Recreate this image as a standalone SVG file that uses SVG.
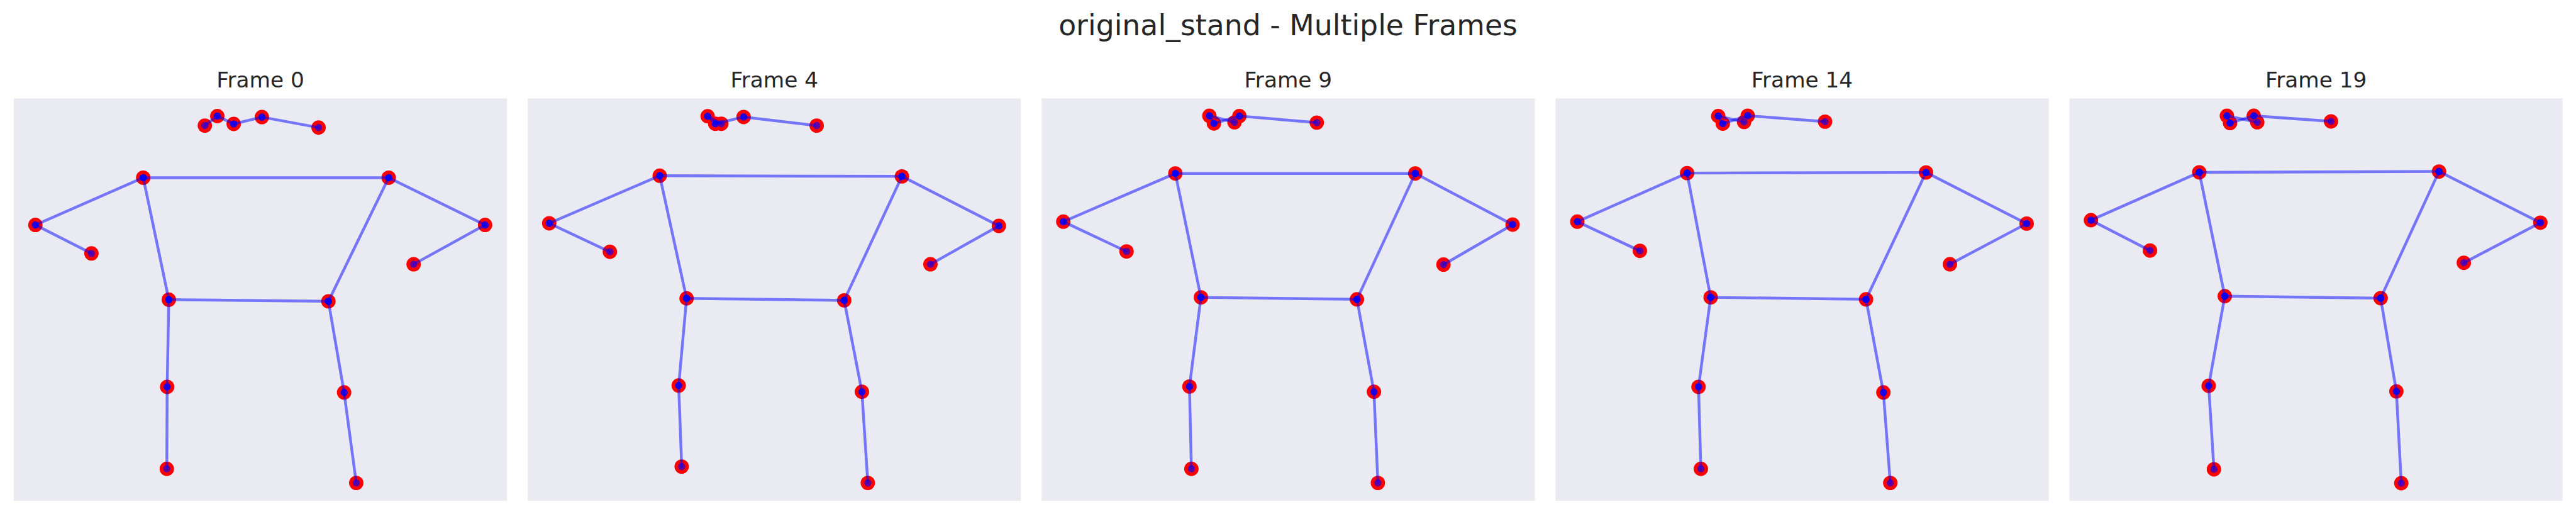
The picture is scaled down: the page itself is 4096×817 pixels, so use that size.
<svg xmlns="http://www.w3.org/2000/svg" width="4096" height="817" viewBox="0 0 4096 817">
<style>
.bg{fill:#EAEAF2}
.ttl{font-family:"DejaVu Sans","Liberation Sans",sans-serif;fill:#262626;text-anchor:middle}
.sup{font-size:66.67px}
.sub{font-size:50px}
.kp circle{fill:#FF0000}
.seg path{fill:none;stroke:#0000FF;stroke-opacity:0.5;stroke-width:6.5;stroke-linecap:square;marker-start:url(#dot);marker-end:url(#dot)}
</style>
<defs>
<marker id="dot" viewBox="-10 -10 20 20" markerWidth="20" markerHeight="20" refX="0" refY="0" markerUnits="userSpaceOnUse" orient="0" overflow="visible">
<circle r="7" fill="#0000FF" fill-opacity="0.5" stroke="#0000FF" stroke-opacity="0.5" stroke-width="3"/>
</marker>
</defs>
<rect width="4096" height="817" fill="#FFFFFF"/>
<g transform="scale(0.6861)">
<g id="suptitle"><text class="ttl sup" x="2985" y="81">original_stand - Multiple Frames</text></g>

<g id="frame-0">
<rect class="bg" x="32" y="228" width="1143" height="932"/>
<text class="ttl sub" x="603.5" y="202">Frame 0</text>
<g class="kp">
<circle r="16.7" cx="474.7" cy="290.9"/><circle r="16.7" cx="503.6" cy="268.9"/><circle r="16.7" cx="541.6" cy="287.1"/><circle r="16.7" cx="606.9" cy="271.2"/><circle r="16.7" cx="738.3" cy="295.5"/>
<circle r="16.7" cx="331.9" cy="411.7"/><circle r="16.7" cx="82" cy="521.1"/><circle r="16.7" cx="211.9" cy="587.1"/>
<circle r="16.7" cx="900.8" cy="411.7"/><circle r="16.7" cx="1124.2" cy="521.1"/><circle r="16.7" cx="958.6" cy="612.2"/>
<circle r="16.7" cx="391.2" cy="694.2"/><circle r="16.7" cx="761.1" cy="698"/>
<circle r="16.7" cx="387.4" cy="896.3"/><circle r="16.7" cx="386.6" cy="1086.2"/>
<circle r="16.7" cx="797.5" cy="909.2"/><circle r="16.7" cx="825.6" cy="1118.8"/>
</g>
<g class="seg">
<path d="M474.7 290.9L503.6 268.9"/><path d="M503.6 268.9L541.6 287.1"/><path d="M541.6 287.1L606.9 271.2"/><path d="M606.9 271.2L738.3 295.5"/>
<path d="M331.9 411.7L900.8 411.7"/><path d="M331.9 411.7L82 521.1"/><path d="M82 521.1L211.9 587.1"/>
<path d="M900.8 411.7L1124.2 521.1"/><path d="M1124.2 521.1L958.6 612.2"/>
<path d="M331.9 411.7L391.2 694.2"/><path d="M900.8 411.7L761.1 698"/><path d="M391.2 694.2L761.1 698"/>
<path d="M391.2 694.2L387.4 896.3"/><path d="M387.4 896.3L386.6 1086.2"/>
<path d="M761.1 698L797.5 909.2"/><path d="M797.5 909.2L825.6 1118.8"/>
</g>
</g>

<g id="frame-4">
<rect class="bg" x="1223" y="228" width="1143" height="932"/>
<text class="ttl sub" x="1794.5" y="202">Frame 4</text>
<g class="kp">
<circle r="16.7" cx="1671.7" cy="286.7"/><circle r="16.7" cx="1640" cy="269.3"/><circle r="16.7" cx="1657.7" cy="286.7"/><circle r="16.7" cx="1723.3" cy="271"/><circle r="16.7" cx="1892.7" cy="291"/>
<circle r="16.7" cx="1528.9" cy="407.1"/><circle r="16.7" cx="1272.9" cy="517.3"/><circle r="16.7" cx="1413.4" cy="583.3"/>
<circle r="16.7" cx="2090.2" cy="408.6"/><circle r="16.7" cx="2315" cy="523.3"/><circle r="16.7" cx="2156.3" cy="612.2"/>
<circle r="16.7" cx="1591.2" cy="691.2"/><circle r="16.7" cx="1956.5" cy="695.8"/>
<circle r="16.7" cx="1572.9" cy="893.2"/><circle r="16.7" cx="1579.8" cy="1080.9"/>
<circle r="16.7" cx="1997.5" cy="907.7"/><circle r="16.7" cx="2011.2" cy="1118.8"/>
</g>
<g class="seg">
<path d="M1671.7 286.7L1640 269.3"/><path d="M1640 269.3L1657.7 286.7"/><path d="M1657.7 286.7L1723.3 271"/><path d="M1723.3 271L1892.7 291"/>
<path d="M1528.9 407.1L2090.2 408.6"/><path d="M1528.9 407.1L1272.9 517.3"/><path d="M1272.9 517.3L1413.4 583.3"/>
<path d="M2090.2 408.6L2315 523.3"/><path d="M2315 523.3L2156.3 612.2"/>
<path d="M1528.9 407.1L1591.2 691.2"/><path d="M2090.2 408.6L1956.5 695.8"/><path d="M1591.2 691.2L1956.5 695.8"/>
<path d="M1591.2 691.2L1572.9 893.2"/><path d="M1572.9 893.2L1579.8 1080.9"/>
<path d="M1956.5 695.8L1997.5 907.7"/><path d="M1997.5 907.7L2011.2 1118.8"/>
</g>
</g>

<g id="frame-9">
<rect class="bg" x="2414" y="228" width="1143" height="932"/>
<text class="ttl sub" x="2985.5" y="202">Frame 9</text>
<g class="kp">
<circle r="16.7" cx="2861" cy="283.3"/><circle r="16.7" cx="2802.7" cy="268.3"/><circle r="16.7" cx="2813.3" cy="286"/><circle r="16.7" cx="2872.3" cy="269"/><circle r="16.7" cx="3051.7" cy="284"/>
<circle r="16.7" cx="2723.9" cy="401.8"/><circle r="16.7" cx="2464.2" cy="513.5"/><circle r="16.7" cx="2610.8" cy="582.6"/>
<circle r="16.7" cx="3279.9" cy="401.8"/><circle r="16.7" cx="3505.5" cy="520.3"/><circle r="16.7" cx="3345.3" cy="613"/>
<circle r="16.7" cx="2783.2" cy="688.9"/><circle r="16.7" cx="3144.7" cy="693.5"/>
<circle r="16.7" cx="2756.6" cy="895.5"/><circle r="16.7" cx="2761.1" cy="1086.2"/>
<circle r="16.7" cx="3184.2" cy="907.7"/><circle r="16.7" cx="3193.3" cy="1118.8"/>
</g>
<g class="seg">
<path d="M2861 283.3L2802.7 268.3"/><path d="M2802.7 268.3L2813.3 286"/><path d="M2813.3 286L2872.3 269"/><path d="M2872.3 269L3051.7 284"/>
<path d="M2723.9 401.8L3279.9 401.8"/><path d="M2723.9 401.8L2464.2 513.5"/><path d="M2464.2 513.5L2610.8 582.6"/>
<path d="M3279.9 401.8L3505.5 520.3"/><path d="M3505.5 520.3L3345.3 613"/>
<path d="M2723.9 401.8L2783.2 688.9"/><path d="M3279.9 401.8L3144.7 693.5"/><path d="M2783.2 688.9L3144.7 693.5"/>
<path d="M2783.2 688.9L2756.6 895.5"/><path d="M2756.6 895.5L2761.1 1086.2"/>
<path d="M3144.7 693.5L3184.2 907.7"/><path d="M3184.2 907.7L3193.3 1118.8"/>
</g>
</g>

<g id="frame-14">
<rect class="bg" x="3605" y="228" width="1143" height="932"/>
<text class="ttl sub" x="4176.5" y="202">Frame 14</text>
<g class="kp">
<circle r="16.7" cx="4042" cy="282.6"/><circle r="16.7" cx="3982" cy="268.9"/><circle r="16.7" cx="3992.6" cy="286.4"/><circle r="16.7" cx="4050.4" cy="268.1"/><circle r="16.7" cx="4229.6" cy="281.8"/>
<circle r="16.7" cx="3909.9" cy="401"/><circle r="16.7" cx="3655.4" cy="513.5"/><circle r="16.7" cx="3800.5" cy="581.1"/>
<circle r="16.7" cx="4463.6" cy="399.5"/><circle r="16.7" cx="4696.8" cy="518"/><circle r="16.7" cx="4519" cy="612.2"/>
<circle r="16.7" cx="3964.5" cy="688.9"/><circle r="16.7" cx="4324.6" cy="693.5"/>
<circle r="16.7" cx="3936.4" cy="896.3"/><circle r="16.7" cx="3941.8" cy="1086.2"/>
<circle r="16.7" cx="4364.8" cy="909.2"/><circle r="16.7" cx="4380.8" cy="1118.8"/>
</g>
<g class="seg">
<path d="M4042 282.6L3982 268.9"/><path d="M3982 268.9L3992.6 286.4"/><path d="M3992.6 286.4L4050.4 268.1"/><path d="M4050.4 268.1L4229.6 281.8"/>
<path d="M3909.9 401L4463.6 399.5"/><path d="M3909.9 401L3655.4 513.5"/><path d="M3655.4 513.5L3800.5 581.1"/>
<path d="M4463.6 399.5L4696.8 518"/><path d="M4696.8 518L4519 612.2"/>
<path d="M3909.9 401L3964.5 688.9"/><path d="M4463.6 399.5L4324.6 693.5"/><path d="M3964.5 688.9L4324.6 693.5"/>
<path d="M3964.5 688.9L3936.4 896.3"/><path d="M3936.4 896.3L3941.8 1086.2"/>
<path d="M4324.6 693.5L4364.8 909.2"/><path d="M4364.8 909.2L4380.8 1118.8"/>
</g>
</g>

<g id="frame-19">
<rect class="bg" x="4796" y="228" width="1143" height="932"/>
<text class="ttl sub" x="5367.5" y="202">Frame 19</text>
<g class="kp">
<circle r="16.7" cx="5231.3" cy="283.2"/><circle r="16.7" cx="5160.9" cy="268.3"/><circle r="16.7" cx="5168.2" cy="285.1"/><circle r="16.7" cx="5223.2" cy="268.3"/><circle r="16.7" cx="5402.2" cy="281.2"/>
<circle r="16.7" cx="5096.9" cy="399.2"/><circle r="16.7" cx="4845.8" cy="510.1"/><circle r="16.7" cx="4982.7" cy="580.4"/>
<circle r="16.7" cx="5652.5" cy="397.3"/><circle r="16.7" cx="5887.4" cy="515.9"/><circle r="16.7" cx="5710" cy="608.8"/>
<circle r="16.7" cx="5156" cy="686.1"/><circle r="16.7" cx="5517.2" cy="690.7"/>
<circle r="16.7" cx="5118.7" cy="893.8"/><circle r="16.7" cx="5130.9" cy="1087.2"/>
<circle r="16.7" cx="5553.7" cy="906.7"/><circle r="16.7" cx="5565" cy="1119.4"/>
</g>
<g class="seg">
<path d="M5231.3 283.2L5160.9 268.3"/><path d="M5160.9 268.3L5168.2 285.1"/><path d="M5168.2 285.1L5223.2 268.3"/><path d="M5223.2 268.3L5402.2 281.2"/>
<path d="M5096.9 399.2L5652.5 397.3"/><path d="M5096.9 399.2L4845.8 510.1"/><path d="M4845.8 510.1L4982.7 580.4"/>
<path d="M5652.5 397.3L5887.4 515.9"/><path d="M5887.4 515.9L5710 608.8"/>
<path d="M5096.9 399.2L5156 686.1"/><path d="M5652.5 397.3L5517.2 690.7"/><path d="M5156 686.1L5517.2 690.7"/>
<path d="M5156 686.1L5118.7 893.8"/><path d="M5118.7 893.8L5130.9 1087.2"/>
<path d="M5517.2 690.7L5553.7 906.7"/><path d="M5553.7 906.7L5565 1119.4"/>
</g>
</g>
</g>
</svg>
